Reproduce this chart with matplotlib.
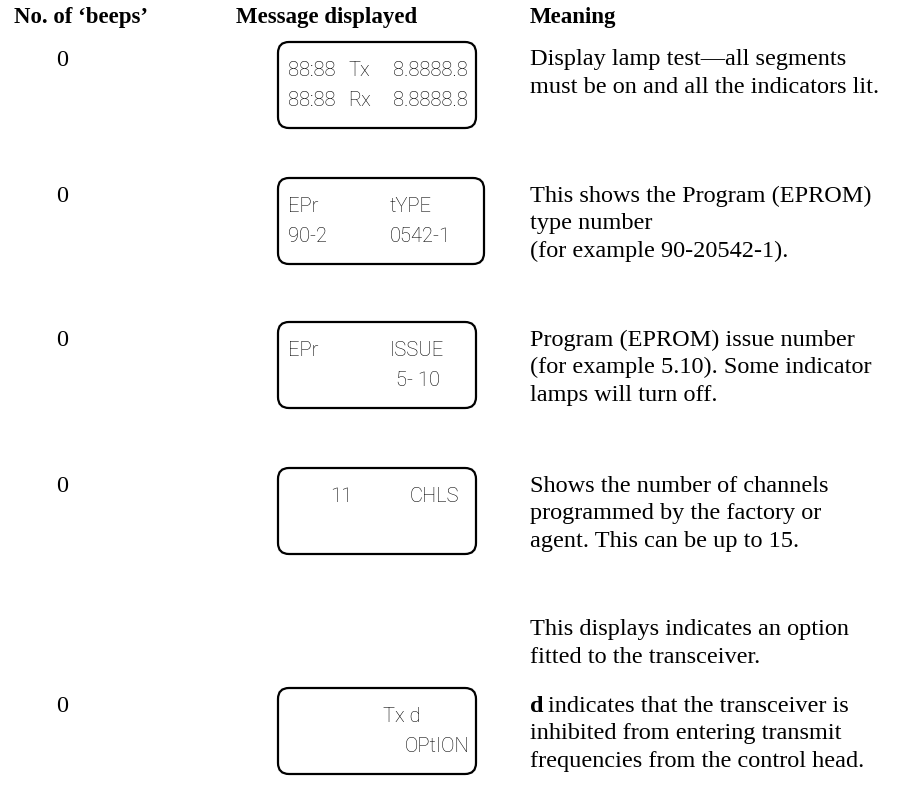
import matplotlib
matplotlib.use("Agg")
import matplotlib.pyplot as plt
from matplotlib.patches import FancyBboxPatch

# table content
headers = ["No. of \u2018beeps\u2019", "Message displayed", "Meaning"]
beeps = ["0", "0", "0", "0", "0"]
# (text, offset from box left, alignment)
lcd_lines = [
    [("88:88", 10, "left"), ("Tx", 70, "left"), ("8.8888.8", 190, "right")],
    [("EPr", 10, "left"), ("tYPE", 112, "left")],
    [("EPr", 10, "left"), ("ISSUE", 112, "left")],
    [("11", 52, "left"), ("CHLS", 132, "left")],
    [("Tx d", 105, "left")],
]
lcd_lines2 = [
    [("88:88", 10, "left"), ("Rx", 70, "left"), ("8.8888.8", 190, "right")],
    [("90-2", 10, "left"), ("0542-1", 112, "left")],
    [("5- 10", 118, "left")],
    [],
    [("OPtION", 192, "right")],
]
meaning = [
    ["Display lamp test\u2014all segments",
     "must be on and all the indicators lit."],
    ["This shows the Program (EPROM)", "type number",
     "(for example 90-20542-1)."],
    ["Program (EPROM) issue number",
     "(for example 5.10). Some indicator", "lamps will turn off."],
    ["Shows the number of channels",
     "programmed by the factory or", "agent. This can be up to 15."],
    ["indicates that the transceiver is",
     "inhibited from entering transmit",
     "frequencies from the control head."],
]
pre_note = ["This displays indicates an option", "fitted to the transceiver."]

W, H = 897, 792
fig = plt.figure(figsize=(W / 100, H / 100), dpi=100)
ax = fig.add_axes([0, 0, 1, 1])
ax.set_xlim(0, W)
ax.set_ylim(H, 0)
ax.axis("off")

serif = "Liberation Serif"
lcdfont = ["Roboto", "DejaVu Sans"]
fs = 17.5

# header row
col_x = [14, 236, 530]
for x, h in zip(col_x, headers):
    ax.text(x, 18, h, fontsize=16.5, fontweight="bold", family=serif,
            va="center", ha="left")

row_top = [42, 178, 322, 468, 688]
box_w = [198, 206, 198, 198, 198]
box_h = 86
box_x = 278
line_gap = 27.5

for i, top in enumerate(row_top):
    ax.text(62, top + 18, beeps[i], fontsize=fs, family=serif,
            va="center", ha="center")
    box = FancyBboxPatch((box_x, top), box_w[i], box_h,
                         boxstyle="round,pad=0,rounding_size=11",
                         fc="none", ec="black", lw=1.6)
    ax.add_patch(box)
    for s, dx, al in lcd_lines[i]:
        ax.text(box_x + dx, top + 29, s, fontsize=14.5, family=lcdfont,
                fontweight="light", va="center", ha=al)
    for s, dx, al in lcd_lines2[i]:
        ax.text(box_x + dx, top + 58, s, fontsize=14.5, family=lcdfont,
                fontweight="light", va="center", ha=al)
    if i < 4:
        for j, line in enumerate(meaning[i]):
            ax.text(530, top + 18 + j * line_gap, line, fontsize=fs,
                    family=serif, va="center", ha="left")

# note above the last row
for j, line in enumerate(pre_note):
    ax.text(530, 630 + j * line_gap, line, fontsize=fs, family=serif,
            va="center", ha="left")

# last row: bold "d" followed by the normal text
d = ax.text(530, row_top[4] + 18, "d", fontsize=fs, family=serif,
            fontweight="bold", va="center", ha="left")
fig.canvas.draw()
bb = d.get_window_extent()
for j, line in enumerate(meaning[4]):
    x = bb.x1 + 5 if j == 0 else 530
    ax.text(x, row_top[4] + 18 + j * line_gap, line, fontsize=fs,
            family=serif, va="center", ha="left")

fig.savefig("out.png", dpi=100)
